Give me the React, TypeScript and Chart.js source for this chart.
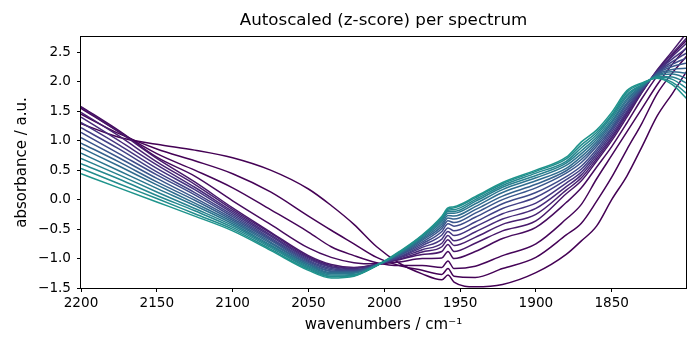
import React, { useEffect, useRef } from "react";
import { Chart, registerables } from "chart.js";

Chart.register(...registerables);

const TITLE = "Autoscaled (z-score) per spectrum";
const X_LABEL = "wavenumbers / cm\u207B\u00B9";
const Y_LABEL = "absorbance / a.u.";

const X_MIN = 1801;
const X_MAX = 2200;
const Y_MIN = -1.5;
const Y_MAX = 2.76;
const X_TICKS = [2200, 2150, 2100, 2050, 2000, 1950, 1900, 1850];
const Y_TICKS = [-1.5, -1.0, -0.5, 0, 0.5, 1.0, 1.5, 2.0, 2.5];

const WAVENUMBERS = [2200, 2175, 2150, 2125, 2100, 2075, 2050, 2035, 2020, 2005, 1990, 1975, 1962, 1958, 1954, 1940, 1922, 1900, 1880, 1870, 1860, 1850, 1840, 1830, 1820, 1810, 1800];

const S00 = [1.29, 1.06, 0.94, 0.84, 0.71, 0.50, 0.18, -0.10, -0.42, -0.80, -1.08, -1.26, -1.36, -1.28, -1.40, -1.48, -1.44, -1.24, -0.93, -0.70, -0.45, 0.00, 0.40, 0.90, 1.42, 1.80, 2.20];
const S01 = [1.45, 1.12, 0.86, 0.66, 0.44, 0.13, -0.28, -0.52, -0.75, -0.98, -1.12, -1.20, -1.27, -1.17, -1.30, -1.32, -1.17, -0.98, -0.60, -0.40, -0.03, 0.38, 0.85, 1.30, 1.80, 2.15, 2.45];
const S02 = [1.55, 1.15, 0.78, 0.50, 0.20, -0.17, -0.55, -0.80, -0.95, -1.07, -1.12, -1.12, -1.15, -1.04, -1.17, -1.13, -0.95, -0.75, -0.33, -0.08, 0.35, 0.75, 1.15, 1.55, 1.95, 2.30, 2.60];
const S03 = [1.58, 1.17, 0.72, 0.40, -0.02, -0.42, -0.82, -0.98, -1.07, -1.09, -1.06, -1.00, -0.99, -0.88, -1.00, -0.88, -0.66, -0.47, -0.05, 0.20, 0.55, 0.90, 1.30, 1.72, 2.10, 2.45, 2.72];
const S04 = [1.57, 1.15, 0.70, 0.30, -0.14, -0.55, -0.95, -1.10, -1.15, -1.10, -1.02, -0.93, -0.88, -0.76, -0.88, -0.74, -0.53, -0.36, 0.10, 0.32, 0.65, 1.00, 1.40, 1.82, 2.20, 2.52, 2.85];
const S05 = [1.48, 1.08, 0.64, 0.26, -0.17, -0.57, -0.97, -1.12, -1.16, -1.10, -1.01, -0.89, -0.80, -0.68, -0.78, -0.64, -0.42, -0.25, 0.16, 0.37, 0.69, 1.04, 1.44, 1.83, 2.19, 2.48, 2.76];
const S06 = [1.40, 1.00, 0.59, 0.21, -0.20, -0.60, -0.99, -1.14, -1.17, -1.10, -0.99, -0.85, -0.74, -0.61, -0.70, -0.55, -0.33, -0.15, 0.22, 0.42, 0.73, 1.07, 1.47, 1.84, 2.18, 2.43, 2.67];
const S07 = [1.31, 0.93, 0.53, 0.17, -0.23, -0.62, -1.01, -1.15, -1.19, -1.11, -0.98, -0.81, -0.67, -0.54, -0.61, -0.46, -0.24, -0.06, 0.28, 0.47, 0.77, 1.11, 1.50, 1.86, 2.17, 2.39, 2.58];
const S08 = [1.22, 0.86, 0.47, 0.12, -0.26, -0.65, -1.03, -1.17, -1.20, -1.11, -0.97, -0.78, -0.60, -0.48, -0.53, -0.38, -0.15, 0.04, 0.34, 0.52, 0.81, 1.15, 1.54, 1.87, 2.16, 2.34, 2.50];
const S09 = [1.14, 0.78, 0.42, 0.08, -0.29, -0.67, -1.05, -1.19, -1.21, -1.11, -0.95, -0.75, -0.54, -0.41, -0.45, -0.30, -0.07, 0.12, 0.39, 0.57, 0.85, 1.19, 1.57, 1.88, 2.15, 2.30, 2.41];
const S10 = [1.05, 0.71, 0.36, 0.03, -0.32, -0.69, -1.07, -1.21, -1.22, -1.11, -0.94, -0.72, -0.49, -0.36, -0.39, -0.23, 0.00, 0.20, 0.45, 0.63, 0.90, 1.22, 1.61, 1.89, 2.14, 2.26, 2.32];
const S11 = [0.96, 0.64, 0.30, -0.01, -0.35, -0.72, -1.09, -1.22, -1.23, -1.11, -0.93, -0.69, -0.45, -0.31, -0.33, -0.17, 0.06, 0.26, 0.49, 0.68, 0.94, 1.26, 1.64, 1.91, 2.13, 2.21, 2.23];
const S12 = [0.88, 0.57, 0.25, -0.06, -0.38, -0.74, -1.10, -1.24, -1.24, -1.11, -0.92, -0.67, -0.41, -0.27, -0.28, -0.12, 0.12, 0.32, 0.53, 0.73, 0.98, 1.30, 1.68, 1.92, 2.11, 2.17, 2.14];
const S13 = [0.79, 0.49, 0.19, -0.10, -0.41, -0.77, -1.12, -1.26, -1.25, -1.11, -0.91, -0.65, -0.37, -0.23, -0.23, -0.07, 0.17, 0.37, 0.58, 0.78, 1.02, 1.33, 1.71, 1.93, 2.10, 2.13, 2.05];
const S14 = [0.70, 0.42, 0.13, -0.15, -0.44, -0.79, -1.14, -1.28, -1.27, -1.12, -0.90, -0.63, -0.34, -0.20, -0.20, -0.03, 0.21, 0.41, 0.62, 0.83, 1.06, 1.37, 1.75, 1.94, 2.09, 2.08, 1.97];
const S15 = [0.61, 0.35, 0.07, -0.19, -0.47, -0.81, -1.16, -1.30, -1.28, -1.12, -0.90, -0.62, -0.32, -0.18, -0.17, 0.00, 0.24, 0.45, 0.65, 0.88, 1.10, 1.41, 1.78, 1.95, 2.08, 2.04, 1.88];
const S16 = [0.53, 0.27, 0.02, -0.24, -0.50, -0.84, -1.18, -1.31, -1.29, -1.12, -0.89, -0.61, -0.30, -0.16, -0.14, 0.03, 0.27, 0.48, 0.69, 0.93, 1.14, 1.44, 1.82, 1.97, 2.07, 1.99, 1.79];
const S17 = [0.44, 0.20, -0.04, -0.28, -0.53, -0.86, -1.20, -1.33, -1.30, -1.12, -0.88, -0.60, -0.28, -0.14, -0.12, 0.05, 0.29, 0.50, 0.72, 0.98, 1.18, 1.48, 1.85, 1.98, 2.06, 1.95, 1.70];

const SPECTRA = [S00, S01, S02, S03, S04, S05, S06, S07, S08, S09, S10, S11, S12, S13, S14, S15, S16, S17];

const COLORS = [
  "#440154", "#440256", "#450559", "#460b5e", "#48186a", "#482071",
  "#472a7a", "#453581", "#424086", "#3e4a89", "#39568c", "#34618d",
  "#2f6c8e", "#2b758e", "#27808e", "#24878e", "#228c8d", "#1f948c",
];

const FONT = "'DejaVu Sans', sans-serif";

const fmtY = (v: number) => v.toFixed(1).replace("-", "\u2212");

export default function App() {
  const ref = useRef<HTMLCanvasElement>(null);

  useEffect(() => {
    const canvas = ref.current;
    if (!canvas) return;

    const framePlugin = {
      id: "frame",
      afterDatasetsDraw(chart: any) {
        const { ctx, chartArea: a } = chart;
        const l = Math.round(a.left);
        const t = Math.round(a.top);
        const r = Math.round(a.right);
        const b = Math.round(a.bottom);
        ctx.save();
        ctx.strokeStyle = "#000";
        ctx.lineWidth = 1;
        ctx.strokeRect(l - 0.5, t - 0.5, r - l + 1, b - t + 1);
        ctx.restore();
      },
    };

    const titlePlugin = {
      id: "axesTitle",
      afterDraw(chart: any) {
        const { ctx, chartArea: a } = chart;
        ctx.save();
        ctx.fillStyle = "#000";
        ctx.font = `16.7px ${FONT}`;
        ctx.textAlign = "center";
        ctx.textBaseline = "middle";
        ctx.fillText(TITLE, (a.left + a.right) / 2, 21);
        ctx.restore();
      },
    };

    const grid = {
      display: true,
      drawOnChartArea: false,
      drawTicks: true,
      tickLength: 4,
      color: "#000",
      lineWidth: 1,
    };

    const chart = new Chart(canvas, {
      type: "line",
      data: {
        datasets: SPECTRA.map((s, k) => ({
          data: WAVENUMBERS.map((x, i) => ({ x, y: s[i] })),
          borderColor: COLORS[k],
          backgroundColor: COLORS[k],
          borderWidth: 1.5,
          pointRadius: 0,
          fill: false,
          cubicInterpolationMode: "monotone" as const,
          order: SPECTRA.length - 1 - k,
        })),
      },
      options: {
        responsive: false,
        animation: false,
        events: [],
        layout: { padding: { left: 0, right: 14, top: 37, bottom: 0 } },
        plugins: {
          legend: { display: false },
          tooltip: { enabled: false },
          title: { display: false },
        },
        scales: {
          x: {
            type: "linear",
            reverse: true,
            min: X_MIN,
            max: X_MAX,
            afterBuildTicks: (s: any) => {
              s.ticks = X_TICKS.map((v) => ({ value: v }));
            },
            afterFit: (s: any) => {
              s.height = 62;
            },
            ticks: {
              color: "#000",
              font: { family: FONT, size: 13.6 },
              padding: 3,
              maxRotation: 0,
              autoSkip: false,
              callback: (v: any) => String(v),
            },
            grid,
            border: { display: false },
            title: {
              display: true,
              text: X_LABEL,
              color: "#000",
              font: { family: FONT, size: 15 },
              padding: { top: 0, bottom: 16 },
            },
          },
          y: {
            type: "linear",
            min: Y_MIN,
            max: Y_MAX,
            afterBuildTicks: (s: any) => {
              s.ticks = Y_TICKS.map((v) => ({ value: v }));
            },
            afterFit: (s: any) => {
              s.width = 81;
            },
            ticks: {
              color: "#000",
              font: { family: FONT, size: 13.6 },
              padding: 6,
              autoSkip: false,
              callback: (v: any) => fmtY(Number(v)),
            },
            grid,
            border: { display: false },
            title: {
              display: true,
              text: Y_LABEL,
              color: "#000",
              font: { family: FONT, size: 15 },
              padding: { top: 13, bottom: 0 },
            },
          },
        },
      },
      plugins: [framePlugin, titlePlugin],
    } as any);

    return () => chart.destroy();
  }, []);

  return (
    <div style={{ position: "fixed", left: 0, top: 0, width: 700, height: 350, background: "#fff" }}>
      <canvas ref={ref} width={700} height={350} style={{ width: 700, height: 350, display: "block" }} />
    </div>
  );
}
